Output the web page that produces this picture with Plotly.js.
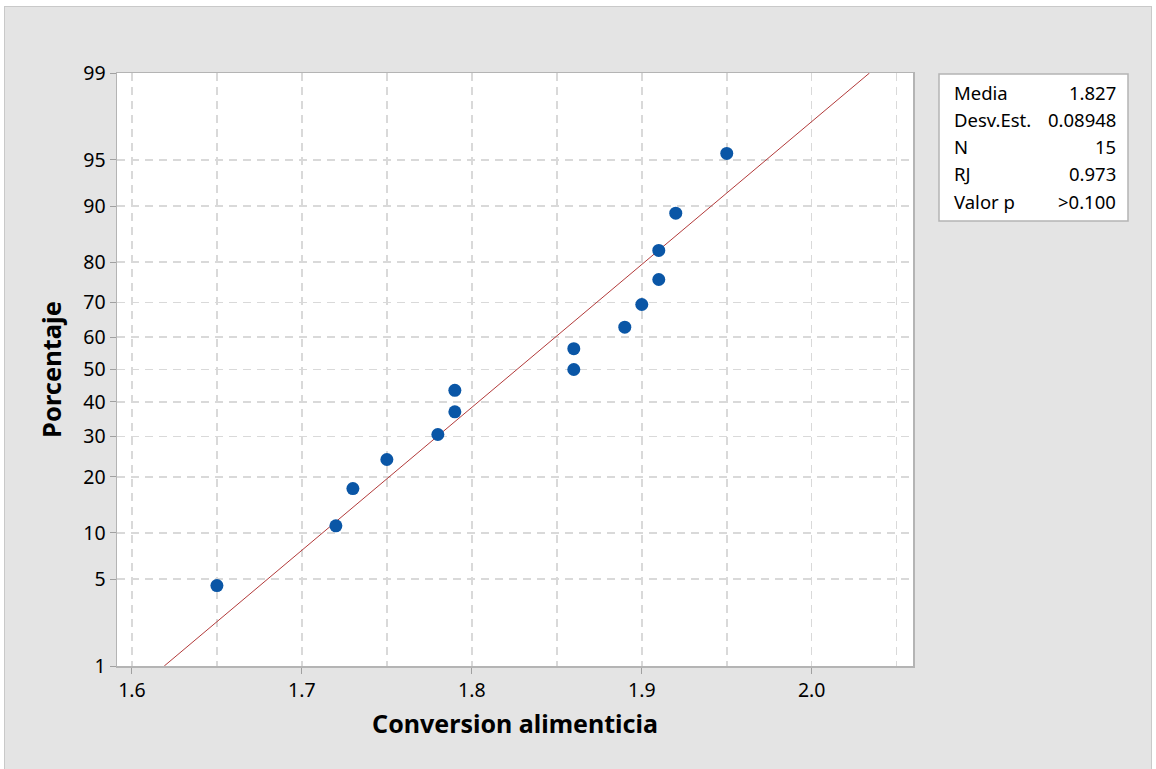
<!DOCTYPE html>
<html>
<head>
<meta charset="utf-8">
<script src="https://cdn.plot.ly/plotly-3.0.1.min.js"></script>
<style>
  html, body { margin: 0; padding: 0; background: #ffffff; width: 1156px; height: 769px; overflow: hidden; }
  #frame { position: absolute; left: 4px; top: 6px; width: 1146px; height: 770px; border: 1px solid #c9c9c9; background: #e4e4e4; }
  #chart { position: absolute; left: 5px; top: 7px; width: 1146px; height: 762px; }
</style>
</head>
<body>
<div id="frame"></div>
<div id="chart"></div>
<script>
// ---- data ----
const conversion = [1.65, 1.72, 1.73, 1.75, 1.78, 1.79, 1.79, 1.86, 1.86, 1.89, 1.90, 1.91, 1.91, 1.92, 1.95];
const percentaje = [4.5, 11.0, 17.5, 24.0, 30.5, 37.0, 43.5, 50.0, 56.5, 63.0, 69.5, 76.0, 82.5, 89.0, 95.5];
const fitLineX = [1.619, 2.034];
const fitLineP = [1, 99];
const yTickPercents = [1, 5, 10, 20, 30, 40, 50, 60, 70, 80, 90, 95, 99];
const xTickVals = [1.6, 1.7, 1.8, 1.9, 2.0];
const xTickText = ['1.6', '1.7', '1.8', '1.9', '2.0'];
const statLabels = ['Media', 'Desv.Est.', 'N', 'RJ', 'Valor p'];
const statValues = ['1.827', '0.08948', '15', '0.973', '>0.100'];

// probability-scale transform (inverse normal CDF, Acklam)
function normInv(p) {
  const a = [-3.969683028665376e+01, 2.209460984245205e+02, -2.759285104469687e+02, 1.383577518672690e+02, -3.066479806614716e+01, 2.506628277459239e+00];
  const b = [-5.447609879822406e+01, 1.615858368580409e+02, -1.556989798598866e+02, 6.680131188771972e+01, -1.328068155288572e+01];
  const c = [-7.784894002430293e-03, -3.223964580411365e-01, -2.400758277161838e+00, -2.549732539343734e+00, 4.374664141464968e+00, 2.938163982698783e+00];
  const d = [7.784695709041462e-03, 3.224671290700398e-01, 2.445134137142996e+00, 3.754408661907416e+00];
  const pl = 0.02425, ph = 1 - pl;
  let q, r;
  if (p < pl) { q = Math.sqrt(-2 * Math.log(p));
    return (((((c[0]*q+c[1])*q+c[2])*q+c[3])*q+c[4])*q+c[5]) / ((((d[0]*q+d[1])*q+d[2])*q+d[3])*q+1); }
  if (p <= ph) { q = p - 0.5; r = q*q;
    return (((((a[0]*r+a[1])*r+a[2])*r+a[3])*r+a[4])*r+a[5])*q / (((((b[0]*r+b[1])*r+b[2])*r+b[3])*r+b[4])*r+1); }
  q = Math.sqrt(-2 * Math.log(1 - p));
  return -(((((c[0]*q+c[1])*q+c[2])*q+c[3])*q+c[4])*q+c[5]) / ((((d[0]*q+d[1])*q+d[2])*q+d[3])*q+1);
}
const toZ = pc => normInv(pc / 100);

// ---- layout geometry ----
const W = 1146, H = 762;
const M = { l: 112, r: 238, t: 66, b: 103 };
const PW = W - M.l - M.r, PH = H - M.t - M.b;
const px = x => (x - 5 - M.l) / PW;          // page px -> paper x
const py = y => 1 - (y - 7 - M.t) / PH;      // page px -> paper y

const FONT = '"Noto Sans", "Open Sans", sans-serif';
const gridCol = '#d9d9d9';

const traces = [
  {
    x: fitLineX, y: fitLineP.map(toZ), mode: 'lines', type: 'scatter',
    line: { color: '#b23a3a', width: 1 }, hoverinfo: 'skip', showlegend: false
  },
  {
    x: conversion, y: percentaje.map(toZ), mode: 'markers', type: 'scatter',
    marker: { color: '#0a56a6', size: 13 }, showlegend: false
  }
];

const annotations = [];
const rowY = [92, 119.5, 146, 173, 201];
statLabels.forEach((t, i) => {
  annotations.push({ xref: 'paper', yref: 'paper', x: px(952), y: py(rowY[i]), xanchor: 'left', yanchor: 'middle',
    text: t, showarrow: false, font: { family: FONT, size: 18.5, color: '#000' } });
  annotations.push({ xref: 'paper', yref: 'paper', x: px(1118), y: py(rowY[i]), xanchor: 'right', yanchor: 'middle',
    text: statValues[i], showarrow: false, font: { family: FONT, size: 18.5, color: '#000' } });
});

const layout = {
  width: W, height: H,
  margin: M,
  paper_bgcolor: '#e4e4e4',
  plot_bgcolor: '#ffffff',
  font: { family: FONT, color: '#000' },
  xaxis: {
    range: [1.5912, 2.0596],
    tickvals: xTickVals, ticktext: xTickText,
    ticks: 'outside', ticklen: 6, tickcolor: '#a0a0a0',
    tickfont: { family: FONT, size: 19.5, color: '#000' },
    showgrid: true, gridcolor: gridCol, griddash: '8px,6px', gridwidth: 1.5,
    minor: { dtick: 0.05, tick0: 1.6, showgrid: true, gridcolor: gridCol, griddash: '8px,6px', gridwidth: 1.5, ticks: '' },
    showline: true, linecolor: '#b4b4b4', linewidth: 1.5, mirror: true,
    zeroline: false,
    title: { text: '<b>Conversion alimenticia</b>', font: { family: FONT, size: 25, color: '#000' }, standoff: 13 }
  },
  yaxis: {
    range: [toZ(1), toZ(99)],
    tickvals: yTickPercents.map(toZ), ticktext: yTickPercents.map(String),
    ticks: 'outside', ticklen: 6, tickcolor: '#a0a0a0',
    tickfont: { family: FONT, size: 19.5, color: '#000' },
    showgrid: true, gridcolor: gridCol, griddash: '8px,6px', gridwidth: 1.5,
    showline: true, linecolor: '#b4b4b4', linewidth: 1.5, mirror: true,
    zeroline: false,
    title: { text: '<b>Porcentaje</b>', font: { family: FONT, size: 25.5, color: '#000' }, standoff: 14 }
  },
  shapes: [
    { type: 'rect', xref: 'paper', yref: 'paper', x0: px(939), x1: px(1128), y0: py(74), y1: py(221),
      fillcolor: '#ffffff', line: { color: '#b4b4b4', width: 1.5 }, layer: 'below' }
  ],
  annotations: annotations,
  showlegend: false,
  hovermode: false
};

Plotly.newPlot('chart', traces, layout, { displayModeBar: false, staticPlot: true });
</script>
</body>
</html>
